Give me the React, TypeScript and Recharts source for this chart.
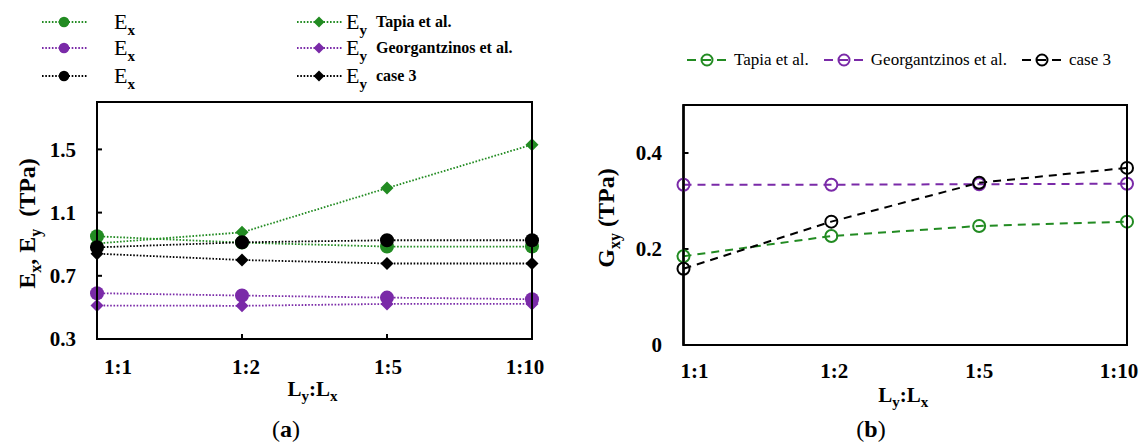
import { LineChart, Line, XAxis, YAxis, ReferenceArea, CartesianGrid } from "recharts";

const FONT = '"Liberation Serif", "Times New Roman", serif';
const GREEN = "#228b22";
const PURPLE = "#7a2aa8";
const BLACK = "#000000";

const ratios = ["1:1", "1:2", "1:5", "1:10"];

// (a) Young's moduli, TPa
const exTapia = [0.95, 0.91, 0.885, 0.885];
const eyTapia = [0.905, 0.975, 1.255, 1.53];
const exGeorg = [0.59, 0.575, 0.562, 0.552];
const eyGeorg = [0.512, 0.51, 0.522, 0.522];
const exCase3 = [0.88, 0.912, 0.925, 0.925];
const eyCase3 = [0.84, 0.8, 0.778, 0.778];
const eTicks = [0.3, 0.7, 1.1, 1.5];
const eDomain = [0.3, 1.8];

// (b) shear modulus, TPa
const gTapia = [0.185, 0.227, 0.248, 0.257];
const gGeorg = [0.334, 0.334, 0.335, 0.336];
const gCase3 = [0.159, 0.257, 0.338, 0.369];
const gTicks = [0, 0.2, 0.4];
const gDomain = [0, 0.5];

const tableA = ratios.map((ratio, i) => ({
  ratio,
  exTapia: exTapia[i],
  eyTapia: eyTapia[i],
  exGeorg: exGeorg[i],
  eyGeorg: eyGeorg[i],
  exCase3: exCase3[i],
  eyCase3: eyCase3[i],
}));

const tableB = ratios.map((ratio, i) => ({
  ratio,
  gTapia: gTapia[i],
  gGeorg: gGeorg[i],
  gCase3: gCase3[i],
}));

type Shape = "circle" | "diamond";

const seriesA: { key: string; color: string; shape: Shape; sub: string; note: string }[] = [
  { key: "exTapia", color: GREEN, shape: "circle", sub: "x", note: "" },
  { key: "eyTapia", color: GREEN, shape: "diamond", sub: "y", note: "Tapia et al." },
  { key: "exGeorg", color: PURPLE, shape: "circle", sub: "x", note: "" },
  { key: "eyGeorg", color: PURPLE, shape: "diamond", sub: "y", note: "Georgantzinos et al." },
  { key: "exCase3", color: BLACK, shape: "circle", sub: "x", note: "" },
  { key: "eyCase3", color: BLACK, shape: "diamond", sub: "y", note: "case 3" },
];

const seriesB = [
  { key: "gTapia", color: GREEN, name: "Tapia et al." },
  { key: "gGeorg", color: PURPLE, name: "Georgantzinos et al." },
  { key: "gCase3", color: BLACK, name: "case 3" },
];

// chart layouts (left offset on page, size, margins, axis sizes)
const layoutA = { left: 0, width: 560, height: 447, margin: { top: 102, right: 28, bottom: 78, left: 0 }, yW: 97, xH: 30 };
const layoutB = { left: 570, width: 572, height: 447, margin: { top: 105, right: 15, bottom: 72, left: 0 }, yW: 113.5, xH: 30 };

const AXIS = { stroke: "#000", strokeWidth: 2 };
const TICK = { fill: "#000", fontSize: 21, fontWeight: 700, fontFamily: FONT };

const markerPath = (shape: Shape, cx: number, cy: number, r: number) =>
  shape === "circle"
    ? `M${cx - r},${cy}a${r},${r} 0 1,0 ${2 * r},0a${r},${r} 0 1,0 ${-2 * r},0`
    : `M${cx},${cy - r}L${cx + r},${cy}L${cx},${cy + r}L${cx - r},${cy}Z`;

const filledDot = (shape: Shape, color: string) => (p: any) => {
  const { cx, cy, index } = p;
  if (cx == null || cy == null) return <g key={index} />;
  const r = shape === "circle" ? 7 : 6.5;
  return <path key={index} d={markerPath(shape, cx, cy, r)} fill={color} />;
};

// grid lines only on the top and right edges of the plot box
const topEdge = (p: any) => [p.offset.top];
const rightEdge = (p: any) => [p.offset.left + p.offset.width];

// same edges as page overlay, from the layout numbers the chart uses
const Frame = ({ l }: { l: typeof layoutA }) => {
  const x0 = l.left + l.margin.left + l.yW;
  const x1 = l.left + l.width - l.margin.right;
  const y0 = l.margin.top;
  const y1 = l.height - l.margin.bottom - l.xH;
  return (
    <svg width={1142} height={447} style={{ position: "absolute", left: 0, top: 0, pointerEvents: "none" }}>
      <rect x={x0} y={y0} width={x1 - x0} height={y1 - y0} fill="none" stroke="#000" strokeWidth={2} />
    </svg>
  );
};

const XTick = (props: any) => {
  const { x, y, payload, index, shifts } = props;
  return (
    <text x={x + (shifts[index] || 0)} y={y} dy="0.35em" textAnchor="middle" style={TICK}>
      {payload.value}
    </text>
  );
};

const XTitle = (props: any) => {
  const vb = props.viewBox || { x: 0, y: 0, width: 0 };
  return (
    <text x={vb.x + vb.width / 2 - 2} y={vb.y + 50} dy="0.35em" textAnchor="middle"
      style={{ fontFamily: FONT, fontSize: 21, fontWeight: 700, fill: "#000" }}>
      L<tspan dy={5} fontSize={15}>y</tspan>
      <tspan dy={-5}>:L</tspan>
      <tspan dy={5} fontSize={15}>x</tspan>
    </text>
  );
};

const YTitleA = (props: any) => {
  const vb = props.viewBox || { x: 0, y: 0, height: 0 };
  const cx = 27;
  const cy = vb.y + vb.height / 2 + 3;
  return (
    <text transform={`translate(${cx},${cy}) rotate(-90)`} textAnchor="middle" dy="0.35em"
      style={{ fontFamily: FONT, fontSize: 24, fontWeight: 700, fill: "#000" }}>
      E<tspan dy={6} fontSize={16}>x</tspan>
      <tspan dy={-6}>, E</tspan>
      <tspan dy={6} fontSize={16}>y</tspan>
      <tspan dy={-6}>{"\u00a0\u00a0(TPa)"}</tspan>
    </text>
  );
};

const YTitleB = (props: any) => {
  const vb = props.viewBox || { x: 0, y: 0, height: 0 };
  const cx = 36;
  const cy = vb.y + vb.height / 2 - 7;
  return (
    <text transform={`translate(${cx},${cy}) rotate(-90)`} textAnchor="middle" dy="0.35em"
      style={{ fontFamily: FONT, fontSize: 24, fontWeight: 700, fill: "#000" }}>
      G<tspan dy={6} fontSize={16}>xy</tspan>
      <tspan dy={-6}>{"\u00a0(TPa)"}</tspan>
    </text>
  );
};

const LegendA = () => {
  const rows = [21.5, 48, 76];
  const cols = [
    { sym: 42, text: 114 },
    { sym: 297, text: 346 },
  ];
  return (
    <>
      {seriesA.map((s, i) => {
        const col = cols[i % 2];
        const y = rows[Math.floor(i / 2)];
        return (
          <div key={s.key}>
            <svg width={46} height={16} style={{ position: "absolute", left: col.sym, top: y - 8 }}>
              <line x1={0} y1={8} x2={46} y2={8} stroke={s.color} strokeWidth={1.8} strokeDasharray="1.6 1.7" />
              <path d={markerPath(s.shape, 22, 8, s.shape === "circle" ? 5.3 : 5.5)} fill={s.color} />
            </svg>
            <div style={{ position: "absolute", left: col.text, top: y - 11, lineHeight: "22px", whiteSpace: "nowrap" }}>
              <span style={{ fontSize: 22 }}>E</span>
              <span style={{ fontSize: 15, fontWeight: 700, position: "relative", top: 6 }}>{s.sub}</span>
              {s.note && (
                <span style={{ fontSize: 16, fontWeight: 700, marginLeft: 9, position: "relative", top: -2 }}>
                  {s.note}
                </span>
              )}
            </div>
          </div>
        );
      })}
    </>
  );
};

const LegendB = () => (
  <div style={{ position: "absolute", left: 687, top: 50, display: "flex", alignItems: "center", gap: 15, whiteSpace: "nowrap" }}>
    {seriesB.map((s) => (
      <div key={s.key} style={{ display: "flex", alignItems: "center", gap: 7 }}>
        <svg width={40} height={16}>
          <line x1={0} y1={8} x2={40} y2={8} stroke={s.color} strokeWidth={2} strokeDasharray="9 6" />
          <circle cx={20} cy={8} r={5.5} fill="none" stroke={s.color} strokeWidth={2} />
        </svg>
        <span style={{ fontSize: 17, fontFamily: FONT }}>{s.name}</span>
      </div>
    ))}
  </div>
);

const Caption = ({ left, letter }: { left: number; letter: string }) => (
  <div style={{ position: "absolute", left: left - 30, width: 60, top: 415, textAlign: "center", fontSize: 24, lineHeight: "28px" }}>
    (<b>{letter}</b>)
  </div>
);

const App = () => {
  return (
    <div style={{ position: "absolute", left: 0, top: 0, width: 1142, height: 447, background: "#fff", fontFamily: FONT, color: "#000" }}>
      <div style={{ position: "absolute", left: layoutA.left, top: 0 }}>
        <LineChart width={layoutA.width} height={layoutA.height} data={tableA} margin={layoutA.margin}>
          <CartesianGrid stroke="#000" strokeWidth={2}
            horizontalCoordinatesGenerator={topEdge} verticalCoordinatesGenerator={rightEdge} />
          <XAxis dataKey="ratio" height={layoutA.xH} interval={0} tickSize={-5} tickMargin={33}
            axisLine={AXIS} tickLine={AXIS} tick={<XTick shifts={[21, 4, 1, -7]} />} label={<XTitle />} />
          <YAxis type="number" domain={eDomain} ticks={eTicks} interval={0} width={layoutA.yW} tickSize={-5} tickMargin={26}
            axisLine={AXIS} tickLine={AXIS} tick={TICK} label={<YTitleA />} />
          <ReferenceArea x1={ratios[0]} x2={ratios[ratios.length - 1]} y1={eDomain[0]} y2={eDomain[1]}
            fill="none" fillOpacity={0} stroke="#000" strokeWidth={2} strokeOpacity={1} ifOverflow="visible" />
          {seriesA.map((s) => (
            <Line key={s.key} dataKey={s.key} stroke={s.color} strokeWidth={1.8} strokeDasharray="1.6 1.7"
              dot={filledDot(s.shape, s.color)} activeDot={false} isAnimationActive={false} />
          ))}
        </LineChart>
      </div>
      <div style={{ position: "absolute", left: layoutB.left, top: 0 }}>
        <LineChart width={layoutB.width} height={layoutB.height} data={tableB} margin={layoutB.margin}>
          <CartesianGrid stroke="#000" strokeWidth={2}
            horizontalCoordinatesGenerator={topEdge} verticalCoordinatesGenerator={rightEdge} />
          <XAxis dataKey="ratio" height={layoutB.xH} interval={0} tickSize={0} tickMargin={26}
            axisLine={AXIS} tickLine={false} tick={<XTick shifts={[11, 3, 0, -8]} />} label={<XTitle />} />
          <YAxis type="number" domain={gDomain} ticks={gTicks} interval={0} width={layoutB.yW} tickSize={-5} tickMargin={26.5}
            axisLine={AXIS} tickLine={AXIS} tick={TICK} label={<YTitleB />} />
          <ReferenceArea x1={ratios[0]} x2={ratios[ratios.length - 1]} y1={gDomain[0]} y2={gDomain[1]}
            fill="none" fillOpacity={0} stroke="#000" strokeWidth={2} strokeOpacity={1} ifOverflow="visible" />
          {seriesB.map((s) => (
            <Line key={s.key} dataKey={s.key} stroke={s.color} strokeWidth={2} strokeDasharray="8 6"
              dot={{ r: 6, fill: "none", stroke: s.color, strokeWidth: 2, strokeDasharray: "0" }}
              activeDot={false} isAnimationActive={false} />
          ))}
        </LineChart>
      </div>
      <Frame l={layoutA} />
      <Frame l={layoutB} />
      <LegendA />
      <LegendB />
      <Caption left={286} letter="a" />
      <Caption left={871} letter="b" />
    </div>
  );
};

export default App;
